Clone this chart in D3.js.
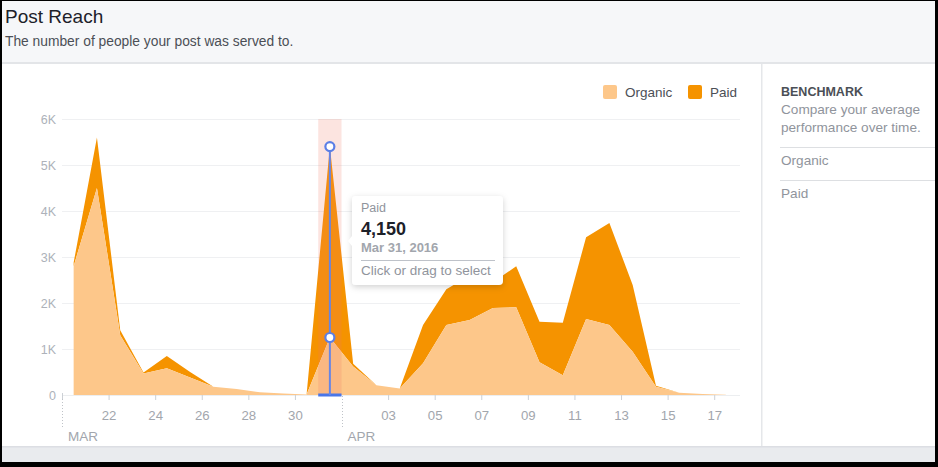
<!DOCTYPE html>
<html>
<head>
<meta charset="utf-8">
<script src="https://cdn.jsdelivr.net/npm/d3@7/dist/d3.min.js"></script>
<style>
  html, body { margin: 0; padding: 0; background: #000; }
  svg { display: block; font-family: "Liberation Sans", Arial, Helvetica, sans-serif; }
</style>
</head>
<body>
<svg id="chart" width="938" height="467"></svg>
<script>
// ---------------- DATA ----------------
const days = ["03-20","03-21","03-22","03-23","03-24","03-25","03-26","03-27","03-28","03-29","03-30","03-31",
              "04-01","04-02","04-03","04-04","04-05","04-06","04-07","04-08","04-09","04-10","04-11","04-12",
              "04-13","04-14","04-15","04-16","04-17"];
const organic = [2800, 4500, 1300, 470, 580, 380, 180, 130, 60, 30, 12, 1250,
                 620, 210, 140, 690, 1520, 1630, 1890, 1910, 710, 430, 1650, 1520,
                 940, 180, 50, 20, 8];
const paid =    [80, 1100, 110, 20, 270, 120, 0, 0, 0, 0, 0, 4150,
                 60, 0, 0, 830, 780, 970, 560, 890, 880, 1140, 1780, 2220,
                 1450, 20, 0, 0, 0];
const seriesNames = ["Organic", "Paid"];
const yTicks = [0, 1000, 2000, 3000, 4000, 5000, 6000];
const yTickLabels = ["0", "1K", "2K", "3K", "4K", "5K", "6K"];
const xTickDays = ["03-22","03-24","03-26","03-28","03-30","04-03","04-05","04-07","04-09","04-11","04-13","04-15","04-17"];
const xTickLabels = ["22","24","26","28","30","03","05","07","09","11","13","15","17"];
const monthDays = ["03-20","04-01"];
const monthLabels = ["MAR","APR"];
const highlightIndex = 11;
const tooltipLines = ["Paid", "4,150", "Mar 31, 2016", "Click or drag to select"];

// ---------------- SETUP ----------------
const colors = { Organic: "#fdc78a", Paid: "#f59300" };
const parse = s => new Date(2016, +s.slice(0,2) - 1, +s.slice(3,5));
const noon = s => { const d = parse(s); d.setHours(12); return d; };

const svg = d3.select("#chart");

// frame
svg.append("rect").attr("x", 2).attr("y", 1).attr("width", 933).attr("height", 461).attr("fill", "#fff");
svg.append("rect").attr("x", 2).attr("y", 1).attr("width", 933).attr("height", 62).attr("fill", "#f6f7f9");
svg.append("rect").attr("x", 2).attr("y", 62).attr("width", 933).attr("height", 2).attr("fill", "#e3e5e8");
svg.append("rect").attr("x", 2).attr("y", 446).attr("width", 933).attr("height", 16).attr("fill", "#e9ebee");
svg.append("rect").attr("x", 2).attr("y", 446).attr("width", 933).attr("height", 1.5).attr("fill", "#dcdee3");
svg.append("rect").attr("x", 761).attr("y", 64).attr("width", 1.5).attr("height", 382).attr("fill", "#e5e7ea");

// header
svg.append("text").attr("x", 5).attr("y", 23).attr("font-size", 19).attr("fill", "#1d2129").text("Post Reach");
svg.append("text").attr("x", 5).attr("y", 46).attr("font-size", 13.8).attr("fill", "#4b4f56").text("The number of people your post was served to.");

// right panel
svg.append("text").attr("x", 781).attr("y", 96).attr("font-size", 12.5).attr("font-weight", "bold").attr("fill", "#4b4f56").text("BENCHMARK");
svg.append("text").attr("x", 781).attr("y", 114).attr("font-size", 13.6).attr("fill", "#90949c").text("Compare your average");
svg.append("text").attr("x", 781).attr("y", 132).attr("font-size", 13.6).attr("fill", "#90949c").text("performance over time.");
svg.append("line").attr("x1", 780).attr("x2", 935).attr("y1", 147.5).attr("y2", 147.5).attr("stroke", "#dddfe2");
svg.append("text").attr("x", 781).attr("y", 165).attr("font-size", 13.6).attr("fill", "#90949c").text(seriesNames[0]);
svg.append("line").attr("x1", 780).attr("x2", 935).attr("y1", 180.5).attr("y2", 180.5).attr("stroke", "#dddfe2");
svg.append("text").attr("x", 781).attr("y", 198).attr("font-size", 13.6).attr("fill", "#90949c").text(seriesNames[1]);

// scales
const x = d3.scaleTime().domain([parse("03-20"), parse("04-18")]).range([62, 737.5]);
const y = d3.scaleLinear().domain([0, 6000]).range([395, 119]);

// gridlines
svg.append("g").selectAll("line").data(yTicks.slice(1)).join("line")
  .attr("x1", 62).attr("x2", 740)
  .attr("y1", d => Math.round(y(d)) + 0.5).attr("y2", d => Math.round(y(d)) + 0.5)
  .attr("stroke", "#eff0f2").attr("stroke-width", 1);

// y labels
svg.append("g").selectAll("text").data(yTicks).join("text")
  .attr("x", 56).attr("y", d => y(d) + 4.5).attr("text-anchor", "end")
  .attr("font-size", 12.5).attr("fill", "#adb2ba")
  .text((d, i) => yTickLabels[i]);

// stacked areas
const table = days.map((d, i) => ({ date: noon(d), Organic: organic[i], Paid: paid[i] }));
const stack = d3.stack().keys(seriesNames)(table);
const area = d3.area().x(d => x(d.data.date)).y0(d => y(d[0])).y1(d => y(d[1]));
svg.append("g").selectAll("path").data(stack.slice().reverse()).join("path")
  .attr("d", area).attr("fill", d => colors[d.key]);

// baseline + ticks
svg.append("line").attr("x1", 62).attr("x2", 740).attr("y1", 395.5).attr("y2", 395.5).attr("stroke", "#eceef0");
const xAxis = d3.axisBottom(x)
  .tickValues(xTickDays.map(parse))
  .tickSize(5).tickPadding(11)
  .tickFormat((d, i) => xTickLabels[i]);
const gx = svg.append("g").attr("transform", "translate(0,395)").call(xAxis);
gx.select(".domain").remove();
gx.selectAll(".tick line").attr("stroke", "#ccd0d5");
gx.selectAll(".tick text").attr("font-size", 13.2).attr("fill", "#a2a6ad").attr("font-family", "Liberation Sans, Arial, sans-serif");

// month markers
svg.append("g").selectAll("line").data(monthDays).join("line")
  .attr("x1", d => Math.round(x(parse(d))) + 0.5).attr("x2", d => Math.round(x(parse(d))) + 0.5)
  .attr("y1", 396).attr("y2", 428).attr("stroke", "#bfc3c8").attr("stroke-dasharray", "1,2");
svg.append("g").selectAll("text").data(monthDays).join("text")
  .attr("x", d => x(parse(d)) + 6).attr("y", 441)
  .attr("font-size", 13.5).attr("fill", "#a2a6ad")
  .text((d, i) => monthLabels[i]);
svg.append("line").attr("x1", 62.5).attr("x2", 62.5).attr("y1", 393).attr("y2", 399).attr("stroke", "#ccd0d5");

// legend
const leg = svg.append("g").selectAll("g").data(seriesNames).join("g")
  .attr("transform", (d, i) => `translate(${[603, 688][i]},85)`);
leg.append("rect").attr("width", 14).attr("height", 14).attr("rx", 2).attr("fill", d => colors[d]);
leg.append("text").attr("x", 22).attr("y", 12).attr("font-size", 13.5).attr("fill", "#4b4f56").text(d => d);

// highlight
const hd = parse(days[highlightIndex]);
const hx0 = x(hd), hx1 = x(d3.timeDay.offset(hd, 1)), hxm = x(noon(days[highlightIndex]));
svg.append("rect").attr("x", hx0).attr("y", 119).attr("width", hx1 - hx0).attr("height", 276)
  .attr("fill", "rgb(240,120,100)").attr("fill-opacity", 0.2);
svg.append("rect").attr("x", hx0).attr("y", 393.5).attr("width", hx1 - hx0).attr("height", 3)
  .attr("fill", "#4a76e8");
const topV = organic[highlightIndex] + paid[highlightIndex];
svg.append("line").attr("x1", hxm).attr("x2", hxm).attr("y1", y(topV)).attr("y2", 395)
  .attr("stroke", "#6685e6").attr("stroke-width", 2);
[topV, organic[highlightIndex]].forEach(v => {
  svg.append("circle").attr("cx", hxm).attr("cy", y(v)).attr("r", 4.5)
    .attr("fill", "#fff").attr("stroke", "#5b7fe6").attr("stroke-width", 2.2);
});

// tooltip
const defs = svg.append("defs");
const f = defs.append("filter").attr("id", "sh").attr("x", "-20%").attr("y", "-20%").attr("width", "140%").attr("height", "150%");
f.append("feDropShadow").attr("dx", 0).attr("dy", 2).attr("stdDeviation", 3).attr("flood-color", "#000").attr("flood-opacity", 0.18);
const tt = svg.append("g").attr("transform", "translate(352,196)");
tt.append("rect").attr("width", 151).attr("height", 89).attr("rx", 4).attr("fill", "#fff").attr("filter", "url(#sh)");
tt.append("path").attr("d", "M0,40 L-4,45 L0,50 Z").attr("fill", "#fff");
tt.append("text").attr("x", 9).attr("y", 16).attr("font-size", 12.5).attr("fill", "#90949c").text(tooltipLines[0]);
tt.append("text").attr("x", 9).attr("y", 39).attr("font-size", 18).attr("font-weight", "bold").attr("fill", "#1d2129").text(tooltipLines[1]);
tt.append("text").attr("x", 9).attr("y", 56).attr("font-size", 13).attr("font-weight", "bold").attr("fill", "#a2a6ad").text(tooltipLines[2]);
tt.append("line").attr("x1", 9).attr("x2", 143).attr("y1", 64.5).attr("y2", 64.5).attr("stroke", "#bec2c9");
tt.append("text").attr("x", 9).attr("y", 79).attr("font-size", 13.5).attr("fill", "#90949c").text(tooltipLines[3]);
</script>
</body>
</html>
